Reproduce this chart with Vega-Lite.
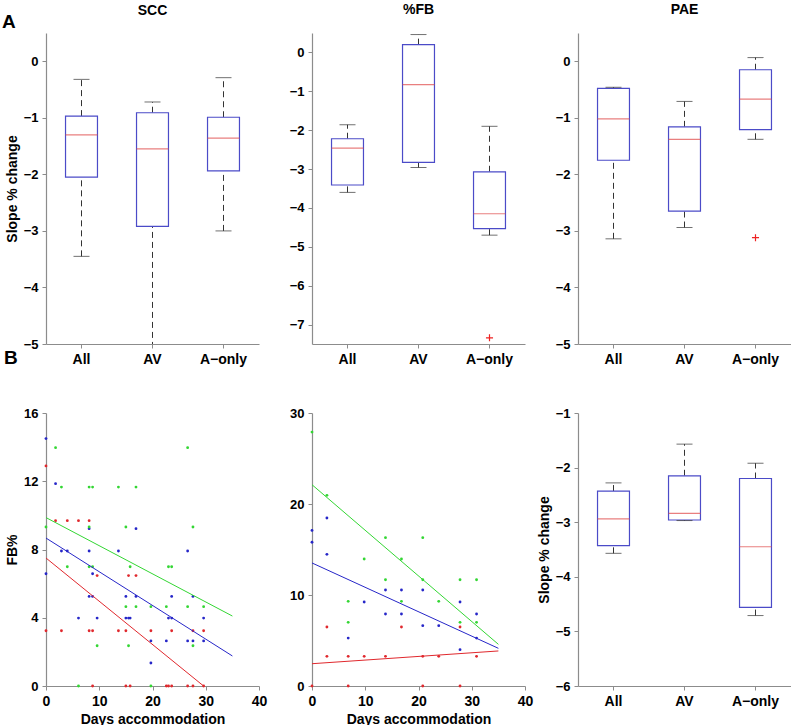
{
  "$schema": "https://vega.github.io/schema/vega-lite/v6.json",
  "padding": {"left": 2, "top": 3, "right": 0, "bottom": 0},
  "background": "#ffffff",
  "config": {
    "view": {"stroke": null},
    "font": "Liberation Sans",
    "axis": {
      "grid": false, "labelFlush": false, "domainColor": "#8c8c8c", "tickColor": "#8c8c8c",
      "domainWidth": 1.2, "tickSize": 4, "labelPadding": 4,
      "labelFont": "Liberation Sans", "labelFontWeight": "bold", "labelFontSize": 13, "labelColor": "#000000",
      "titleFont": "Liberation Sans", "titleFontWeight": "bold", "titleFontSize": 14, "titleColor": "#000000"
    },
    "axisX": {"labelFontSize": 14},
    "title": {"font": "Liberation Sans", "fontSize": 14, "fontWeight": "bold", "offset": 16, "color": "#000000"}
  },
  "datasets": {
    "scc": [
      {"grp": "All", "lo": -3.45, "q1": -2.05, "med": -1.30, "q3": -0.97, "hi": -0.32},
      {"grp": "AV", "lo": -5.6, "q1": -2.92, "med": -1.55, "q3": -0.91, "hi": -0.72},
      {"grp": "A−only", "lo": -3.00, "q1": -1.94, "med": -1.36, "q3": -0.99, "hi": -0.29}
    ],
    "fb": [
      {"grp": "All", "lo": -3.60, "q1": -3.41, "med": -2.46, "q3": -2.22, "hi": -1.86},
      {"grp": "AV", "lo": -2.96, "q1": -2.83, "med": -0.83, "q3": 0.20, "hi": 0.46},
      {"grp": "A−only", "lo": -4.70, "q1": -4.53, "med": -4.15, "q3": -3.07, "hi": -1.90}
    ],
    "fbout": [{"grp": "A−only", "v": -7.34}],
    "pae": [
      {"grp": "All", "lo": -3.14, "q1": -1.75, "med": -1.02, "q3": -0.48, "hi": -0.46},
      {"grp": "AV", "lo": -2.94, "q1": -2.65, "med": -1.38, "q3": -1.16, "hi": -0.71},
      {"grp": "A−only", "lo": -1.38, "q1": -1.21, "med": -0.67, "q3": -0.15, "hi": 0.065}
    ],
    "paeout": [{"grp": "A−only", "v": -3.12}],
    "br": [
      {"grp": "All", "lo": -3.57, "q1": -3.43, "med": -2.94, "q3": -2.43, "hi": -2.28},
      {"grp": "AV", "lo": -2.97, "q1": -2.96, "med": -2.84, "q3": -2.15, "hi": -1.57},
      {"grp": "A−only", "lo": -4.71, "q1": -4.56, "med": -3.45, "q3": -2.20, "hi": -1.92}
    ],
    "ptsL": [
      {"s": "red", "day": 0, "fb": 12.9}, {"s": "red", "day": 1.8, "fb": 9.69}, {"s": "red", "day": 4, "fb": 9.69}, {"s": "red", "day": 6.1, "fb": 9.69}, {"s": "red", "day": 8.1, "fb": 9.69},
      {"s": "red", "day": 9.6, "fb": 6.47}, {"s": "red", "day": 15.5, "fb": 6.47}, {"s": "red", "day": 16.9, "fb": 6.47},
      {"s": "red", "day": 0, "fb": 3.24}, {"s": "red", "day": 2.9, "fb": 3.24}, {"s": "red", "day": 8.1, "fb": 3.24}, {"s": "red", "day": 8.75, "fb": 3.24}, {"s": "red", "day": 13.6, "fb": 3.24}, {"s": "red", "day": 15, "fb": 3.24}, {"s": "red", "day": 19.7, "fb": 3.24}, {"s": "red", "day": 23.6, "fb": 3.24}, {"s": "red", "day": 27.6, "fb": 3.24}, {"s": "red", "day": 29.6, "fb": 3.24},
      {"s": "red", "day": 8.75, "fb": 0}, {"s": "red", "day": 15, "fb": 0}, {"s": "red", "day": 15.8, "fb": 0}, {"s": "red", "day": 22.6, "fb": 0}, {"s": "red", "day": 23, "fb": 0}, {"s": "red", "day": 23.6, "fb": 0}, {"s": "red", "day": 26.6, "fb": 0}, {"s": "red", "day": 27.6, "fb": 0}, {"s": "red", "day": 29.6, "fb": 0},
      {"s": "blue", "day": 0, "fb": 14.5}, {"s": "blue", "day": 1.8, "fb": 11.86}, {"s": "blue", "day": 8.1, "fb": 9.22}, {"s": "blue", "day": 16.9, "fb": 9.22},
      {"s": "blue", "day": 2.9, "fb": 7.91}, {"s": "blue", "day": 4, "fb": 7.91}, {"s": "blue", "day": 8.1, "fb": 7.91}, {"s": "blue", "day": 13.6, "fb": 7.91}, {"s": "blue", "day": 26.6, "fb": 7.91},
      {"s": "blue", "day": 0, "fb": 6.58}, {"s": "blue", "day": 8.75, "fb": 6.58},
      {"s": "blue", "day": 8.1, "fb": 5.25}, {"s": "blue", "day": 8.75, "fb": 5.25}, {"s": "blue", "day": 15, "fb": 5.25}, {"s": "blue", "day": 16.9, "fb": 5.25}, {"s": "blue", "day": 23.6, "fb": 5.25}, {"s": "blue", "day": 27.6, "fb": 5.25},
      {"s": "blue", "day": 6.1, "fb": 3.98}, {"s": "blue", "day": 9.6, "fb": 3.98}, {"s": "blue", "day": 15, "fb": 3.98}, {"s": "blue", "day": 15.5, "fb": 3.98}, {"s": "blue", "day": 15.8, "fb": 3.98}, {"s": "blue", "day": 23, "fb": 3.98}, {"s": "blue", "day": 23.6, "fb": 3.98}, {"s": "blue", "day": 29.6, "fb": 3.98},
      {"s": "blue", "day": 19.7, "fb": 2.64}, {"s": "blue", "day": 22.6, "fb": 2.64}, {"s": "blue", "day": 26.6, "fb": 2.64}, {"s": "blue", "day": 27.6, "fb": 2.64}, {"s": "blue", "day": 29.6, "fb": 2.64}, {"s": "blue", "day": 19.7, "fb": 1.35},
      {"s": "green", "day": 1.8, "fb": 13.97}, {"s": "green", "day": 26.6, "fb": 13.97},
      {"s": "green", "day": 2.9, "fb": 11.66}, {"s": "green", "day": 8.1, "fb": 11.66}, {"s": "green", "day": 8.75, "fb": 11.66}, {"s": "green", "day": 13.6, "fb": 11.66}, {"s": "green", "day": 16.9, "fb": 11.66},
      {"s": "green", "day": 0, "fb": 9.32}, {"s": "green", "day": 8.1, "fb": 9.32}, {"s": "green", "day": 15, "fb": 9.32}, {"s": "green", "day": 27.6, "fb": 9.32},
      {"s": "green", "day": 4, "fb": 6.99}, {"s": "green", "day": 8.1, "fb": 6.99}, {"s": "green", "day": 8.75, "fb": 6.99}, {"s": "green", "day": 15.8, "fb": 6.99}, {"s": "green", "day": 23, "fb": 6.99}, {"s": "green", "day": 23.6, "fb": 6.99},
      {"s": "green", "day": 15, "fb": 4.65}, {"s": "green", "day": 16.9, "fb": 4.65}, {"s": "green", "day": 19.7, "fb": 4.65}, {"s": "green", "day": 22.6, "fb": 4.65}, {"s": "green", "day": 26.6, "fb": 4.65}, {"s": "green", "day": 29.6, "fb": 4.65},
      {"s": "green", "day": 9.6, "fb": 2.36}, {"s": "green", "day": 15.5, "fb": 2.36}, {"s": "green", "day": 27.6, "fb": 2.36},
      {"s": "green", "day": 6.1, "fb": 0}, {"s": "green", "day": 19.7, "fb": 0}
    ],
    "linesL": [
      {"s": "red", "day": 0, "fb": 7.50}, {"s": "red", "day": 29.6, "fb": 0},
      {"s": "blue", "day": 0, "fb": 8.67}, {"s": "blue", "day": 35, "fb": 1.76},
      {"s": "green", "day": 0, "fb": 9.87}, {"s": "green", "day": 35, "fb": 4.10}
    ],
    "ptsM": [
      {"s": "red", "day": 2.8, "fb": 6.48}, {"s": "red", "day": 16.8, "fb": 6.48}, {"s": "red", "day": 27.8, "fb": 6.48},
      {"s": "red", "day": 2.8, "fb": 3.26}, {"s": "red", "day": 6.8, "fb": 3.26}, {"s": "red", "day": 9.8, "fb": 3.26}, {"s": "red", "day": 13.8, "fb": 3.26}, {"s": "red", "day": 20.8, "fb": 3.26}, {"s": "red", "day": 23.8, "fb": 3.26}, {"s": "red", "day": 30.9, "fb": 3.26},
      {"s": "red", "day": 0, "fb": 0}, {"s": "red", "day": 6.8, "fb": 0}, {"s": "red", "day": 20.8, "fb": 0}, {"s": "red", "day": 27.8, "fb": 0},
      {"s": "blue", "day": 2.8, "fb": 18.46}, {"s": "blue", "day": 0, "fb": 17.1}, {"s": "blue", "day": 0, "fb": 15.8}, {"s": "blue", "day": 2.8, "fb": 14.47},
      {"s": "blue", "day": 13.8, "fb": 10.55}, {"s": "blue", "day": 16.8, "fb": 10.55}, {"s": "blue", "day": 20.8, "fb": 10.55},
      {"s": "blue", "day": 9.8, "fb": 9.23}, {"s": "blue", "day": 27.8, "fb": 9.23},
      {"s": "blue", "day": 13.8, "fb": 7.91}, {"s": "blue", "day": 16.8, "fb": 7.91}, {"s": "blue", "day": 30.9, "fb": 7.91},
      {"s": "blue", "day": 20.8, "fb": 6.63}, {"s": "blue", "day": 23.8, "fb": 6.63},
      {"s": "blue", "day": 6.8, "fb": 5.27}, {"s": "blue", "day": 30.9, "fb": 5.27}, {"s": "blue", "day": 27.8, "fb": 3.99},
      {"s": "green", "day": 0, "fb": 27.9}, {"s": "green", "day": 2.8, "fb": 20.95},
      {"s": "green", "day": 13.8, "fb": 16.3}, {"s": "green", "day": 20.8, "fb": 16.3},
      {"s": "green", "day": 9.8, "fb": 13.96}, {"s": "green", "day": 16.8, "fb": 13.96},
      {"s": "green", "day": 13.8, "fb": 11.68}, {"s": "green", "day": 20.8, "fb": 11.68}, {"s": "green", "day": 27.8, "fb": 11.68}, {"s": "green", "day": 30.9, "fb": 11.68},
      {"s": "green", "day": 6.8, "fb": 9.3}, {"s": "green", "day": 16.8, "fb": 9.3}, {"s": "green", "day": 23.8, "fb": 9.3},
      {"s": "green", "day": 6.8, "fb": 7.0}, {"s": "green", "day": 27.8, "fb": 7.0}, {"s": "green", "day": 30.9, "fb": 7.0}
    ],
    "linesM": [
      {"s": "red", "day": 0, "fb": 2.45}, {"s": "red", "day": 35, "fb": 3.85},
      {"s": "blue", "day": 0, "fb": 13.52}, {"s": "blue", "day": 35, "fb": 4.14},
      {"s": "green", "day": 0, "fb": 22.12}, {"s": "green", "day": 35, "fb": 4.58}
    ],
    "lblA": [{"label": "A"}],
    "lblB": [{"label": "B"}]
  },
  "columns": 3,
  "bounds": "flush",
  "spacing": {"row": 69, "column": 53},
  "concat": [
    {
      "width": 213, "height": 311, "title": {"text": "SCC", "offset": -4.5},
      "data": {"name": "scc"},
      "layer": [
        {"mark": {"type": "rule", "strokeDash": [6, 4], "color": "#333333", "strokeWidth": 1, "clip": true},
         "encoding": {
           "x": {"field": "grp", "type": "nominal", "sort": ["All", "AV", "A−only"], "scale": {"type": "band", "domain": ["All", "AV", "A−only"], "paddingInner": 0, "paddingOuter": 0}, "axis": {"title": null, "labelAngle": 0}},
           "y": {"field": "q3", "type": "quantitative", "scale": {"domain": [-5, 0.5], "nice": false, "zero": false}, "axis": {"values": [-5, -4, -3, -2, -1, 0], "format": "d", "title": "Slope % change"}},
           "y2": {"field": "hi"}}},
        {"mark": {"type": "rule", "strokeDash": [6, 4], "color": "#333333", "strokeWidth": 1, "clip": true},
         "encoding": {"x": {"field": "grp", "type": "nominal", "sort": ["All", "AV", "A−only"]}, "y": {"field": "lo", "type": "quantitative"}, "y2": {"field": "q1"}}},
        {"mark": {"type": "bar", "width": {"band": 0.45}, "fill": "#ffffff", "stroke": "#4b4bc8", "strokeWidth": 1.2},
         "encoding": {"x": {"field": "grp", "type": "nominal", "sort": ["All", "AV", "A−only"]}, "y": {"field": "q1", "type": "quantitative"}, "y2": {"field": "q3"}}},
        {"mark": {"type": "tick", "size": 32, "thickness": 1.2, "color": "#e04848"},
         "encoding": {"x": {"field": "grp", "type": "nominal", "sort": ["All", "AV", "A−only"]}, "y": {"field": "med", "type": "quantitative"}}},
        {"mark": {"type": "tick", "size": 16, "thickness": 1, "color": "#333333", "clip": true},
         "encoding": {"x": {"field": "grp", "type": "nominal", "sort": ["All", "AV", "A−only"]}, "y": {"field": "hi", "type": "quantitative"}}},
        {"mark": {"type": "tick", "size": 16, "thickness": 1, "color": "#333333", "clip": true},
         "encoding": {"x": {"field": "grp", "type": "nominal", "sort": ["All", "AV", "A−only"]}, "y": {"field": "lo", "type": "quantitative"}}},
        {"data": {"name": "lblA"},
         "mark": {"type": "text", "fontSize": 19, "fontWeight": "bold", "font": "Liberation Sans", "align": "left", "baseline": "middle", "color": "#000000"},
         "encoding": {"x": {"value": -44}, "y": {"value": -11}, "text": {"field": "label"}}}
      ]
    },
    {
      "width": 213, "height": 311, "title": "%FB",
      "data": {"name": "fb"},
      "layer": [
        {"mark": {"type": "rule", "strokeDash": [6, 4], "color": "#333333", "strokeWidth": 1, "clip": true},
         "encoding": {
           "x": {"field": "grp", "type": "nominal", "sort": ["All", "AV", "A−only"], "scale": {"type": "band", "domain": ["All", "AV", "A−only"], "paddingInner": 0, "paddingOuter": 0}, "axis": {"title": null, "labelAngle": 0}},
           "y": {"field": "q3", "type": "quantitative", "scale": {"domain": [-7.5, 0.5], "nice": false, "zero": false}, "axis": {"values": [-7, -6, -5, -4, -3, -2, -1, 0], "format": "d", "title": null}},
           "y2": {"field": "hi"}}},
        {"mark": {"type": "rule", "strokeDash": [6, 4], "color": "#333333", "strokeWidth": 1, "clip": true},
         "encoding": {"x": {"field": "grp", "type": "nominal", "sort": ["All", "AV", "A−only"]}, "y": {"field": "lo", "type": "quantitative"}, "y2": {"field": "q1"}}},
        {"mark": {"type": "bar", "width": {"band": 0.45}, "fill": "#ffffff", "stroke": "#4b4bc8", "strokeWidth": 1.2},
         "encoding": {"x": {"field": "grp", "type": "nominal", "sort": ["All", "AV", "A−only"]}, "y": {"field": "q1", "type": "quantitative"}, "y2": {"field": "q3"}}},
        {"mark": {"type": "tick", "size": 32, "thickness": 1.2, "color": "#e04848"},
         "encoding": {"x": {"field": "grp", "type": "nominal", "sort": ["All", "AV", "A−only"]}, "y": {"field": "med", "type": "quantitative"}}},
        {"mark": {"type": "tick", "size": 16, "thickness": 1, "color": "#333333"},
         "encoding": {"x": {"field": "grp", "type": "nominal", "sort": ["All", "AV", "A−only"]}, "y": {"field": "hi", "type": "quantitative"}}},
        {"mark": {"type": "tick", "size": 16, "thickness": 1, "color": "#333333"},
         "encoding": {"x": {"field": "grp", "type": "nominal", "sort": ["All", "AV", "A−only"]}, "y": {"field": "lo", "type": "quantitative"}}},
        {"data": {"name": "fbout"},
         "mark": {"type": "point", "shape": "M-1,0H1M0,-1V1", "filled": false, "color": "#ee2222", "stroke": "#ee2222", "strokeWidth": 1.2, "size": 50, "opacity": 1},
         "encoding": {"x": {"field": "grp", "type": "nominal", "sort": ["All", "AV", "A−only"]}, "y": {"field": "v", "type": "quantitative"}}}
      ]
    },
    {
      "width": 213, "height": 311, "title": "PAE",
      "data": {"name": "pae"},
      "layer": [
        {"mark": {"type": "rule", "strokeDash": [6, 4], "color": "#333333", "strokeWidth": 1, "clip": true},
         "encoding": {
           "x": {"field": "grp", "type": "nominal", "sort": ["All", "AV", "A−only"], "scale": {"type": "band", "domain": ["All", "AV", "A−only"], "paddingInner": 0, "paddingOuter": 0}, "axis": {"title": null, "labelAngle": 0}},
           "y": {"field": "q3", "type": "quantitative", "scale": {"domain": [-5, 0.5], "nice": false, "zero": false}, "axis": {"values": [-5, -4, -3, -2, -1, 0], "format": "d", "title": null}},
           "y2": {"field": "hi"}}},
        {"mark": {"type": "rule", "strokeDash": [6, 4], "color": "#333333", "strokeWidth": 1, "clip": true},
         "encoding": {"x": {"field": "grp", "type": "nominal", "sort": ["All", "AV", "A−only"]}, "y": {"field": "lo", "type": "quantitative"}, "y2": {"field": "q1"}}},
        {"mark": {"type": "bar", "width": {"band": 0.45}, "fill": "#ffffff", "stroke": "#4b4bc8", "strokeWidth": 1.2},
         "encoding": {"x": {"field": "grp", "type": "nominal", "sort": ["All", "AV", "A−only"]}, "y": {"field": "q1", "type": "quantitative"}, "y2": {"field": "q3"}}},
        {"mark": {"type": "tick", "size": 32, "thickness": 1.2, "color": "#e04848"},
         "encoding": {"x": {"field": "grp", "type": "nominal", "sort": ["All", "AV", "A−only"]}, "y": {"field": "med", "type": "quantitative"}}},
        {"mark": {"type": "tick", "size": 16, "thickness": 1, "color": "#333333"},
         "encoding": {"x": {"field": "grp", "type": "nominal", "sort": ["All", "AV", "A−only"]}, "y": {"field": "hi", "type": "quantitative"}}},
        {"mark": {"type": "tick", "size": 16, "thickness": 1, "color": "#333333"},
         "encoding": {"x": {"field": "grp", "type": "nominal", "sort": ["All", "AV", "A−only"]}, "y": {"field": "lo", "type": "quantitative"}}},
        {"data": {"name": "paeout"},
         "mark": {"type": "point", "shape": "M-1,0H1M0,-1V1", "filled": false, "color": "#ee2222", "stroke": "#ee2222", "strokeWidth": 1.2, "size": 50, "opacity": 1},
         "encoding": {"x": {"field": "grp", "type": "nominal", "sort": ["All", "AV", "A−only"]}, "y": {"field": "v", "type": "quantitative"}}}
      ]
    },
    {
      "width": 213, "height": 273,
      "layer": [
        {"data": {"name": "ptsL"},
         "mark": {"type": "circle", "size": 8, "opacity": 1},
         "encoding": {
           "x": {"field": "day", "type": "quantitative", "scale": {"domain": [0, 40], "nice": false, "zero": false}, "axis": {"values": [0, 10, 20, 30, 40], "title": "Days accommodation"}},
           "y": {"field": "fb", "type": "quantitative", "scale": {"domain": [0, 16], "nice": false, "zero": false}, "axis": {"values": [0, 4, 8, 12, 16], "title": "FB%"}},
           "color": {"field": "s", "type": "nominal", "scale": {"domain": ["red", "blue", "green"], "range": ["#e0282d", "#2626c8", "#33d633"]}, "legend": null}}},
        {"data": {"name": "linesL"},
         "mark": {"type": "line", "strokeWidth": 1, "clip": true},
         "encoding": {
           "x": {"field": "day", "type": "quantitative"},
           "y": {"field": "fb", "type": "quantitative"},
           "color": {"field": "s", "type": "nominal", "legend": null}}},
        {"data": {"name": "lblB"},
         "mark": {"type": "text", "fontSize": 19, "fontWeight": "bold", "font": "Liberation Sans", "align": "left", "baseline": "middle", "color": "#000000"},
         "encoding": {"x": {"value": -42}, "y": {"value": -55}, "text": {"field": "label"}}}
      ]
    },
    {
      "width": 213, "height": 273,
      "layer": [
        {"data": {"name": "ptsM"},
         "mark": {"type": "circle", "size": 8, "opacity": 1},
         "encoding": {
           "x": {"field": "day", "type": "quantitative", "scale": {"domain": [0, 40], "nice": false, "zero": false}, "axis": {"values": [0, 10, 20, 30, 40], "title": "Days accommodation"}},
           "y": {"field": "fb", "type": "quantitative", "scale": {"domain": [0, 30], "nice": false, "zero": false}, "axis": {"values": [0, 10, 20, 30], "title": null}},
           "color": {"field": "s", "type": "nominal", "scale": {"domain": ["red", "blue", "green"], "range": ["#e0282d", "#2626c8", "#33d633"]}, "legend": null}}},
        {"data": {"name": "linesM"},
         "mark": {"type": "line", "strokeWidth": 1, "clip": true},
         "encoding": {
           "x": {"field": "day", "type": "quantitative"},
           "y": {"field": "fb", "type": "quantitative"},
           "color": {"field": "s", "type": "nominal", "legend": null}}}
      ]
    },
    {
      "width": 213, "height": 273,
      "data": {"name": "br"},
      "layer": [
        {"mark": {"type": "rule", "strokeDash": [6, 4], "color": "#333333", "strokeWidth": 1, "clip": true},
         "encoding": {
           "x": {"field": "grp", "type": "nominal", "sort": ["All", "AV", "A−only"], "scale": {"type": "band", "domain": ["All", "AV", "A−only"], "paddingInner": 0, "paddingOuter": 0}, "axis": {"title": null, "labelAngle": 0}},
           "y": {"field": "q3", "type": "quantitative", "scale": {"domain": [-6, -1], "nice": false, "zero": false}, "axis": {"values": [-6, -5, -4, -3, -2, -1], "format": "d", "title": "Slope % change"}},
           "y2": {"field": "hi"}}},
        {"mark": {"type": "rule", "strokeDash": [6, 4], "color": "#333333", "strokeWidth": 1, "clip": true},
         "encoding": {"x": {"field": "grp", "type": "nominal", "sort": ["All", "AV", "A−only"]}, "y": {"field": "lo", "type": "quantitative"}, "y2": {"field": "q1"}}},
        {"mark": {"type": "bar", "width": {"band": 0.45}, "fill": "#ffffff", "stroke": "#4b4bc8", "strokeWidth": 1.2},
         "encoding": {"x": {"field": "grp", "type": "nominal", "sort": ["All", "AV", "A−only"]}, "y": {"field": "q1", "type": "quantitative"}, "y2": {"field": "q3"}}},
        {"mark": {"type": "tick", "size": 32, "thickness": 1.2, "color": "#e04848"},
         "encoding": {"x": {"field": "grp", "type": "nominal", "sort": ["All", "AV", "A−only"]}, "y": {"field": "med", "type": "quantitative"}}},
        {"mark": {"type": "tick", "size": 16, "thickness": 1, "color": "#333333"},
         "encoding": {"x": {"field": "grp", "type": "nominal", "sort": ["All", "AV", "A−only"]}, "y": {"field": "hi", "type": "quantitative"}}},
        {"mark": {"type": "tick", "size": 16, "thickness": 1, "color": "#333333"},
         "encoding": {"x": {"field": "grp", "type": "nominal", "sort": ["All", "AV", "A−only"]}, "y": {"field": "lo", "type": "quantitative"}}}
      ]
    }
  ]
}
